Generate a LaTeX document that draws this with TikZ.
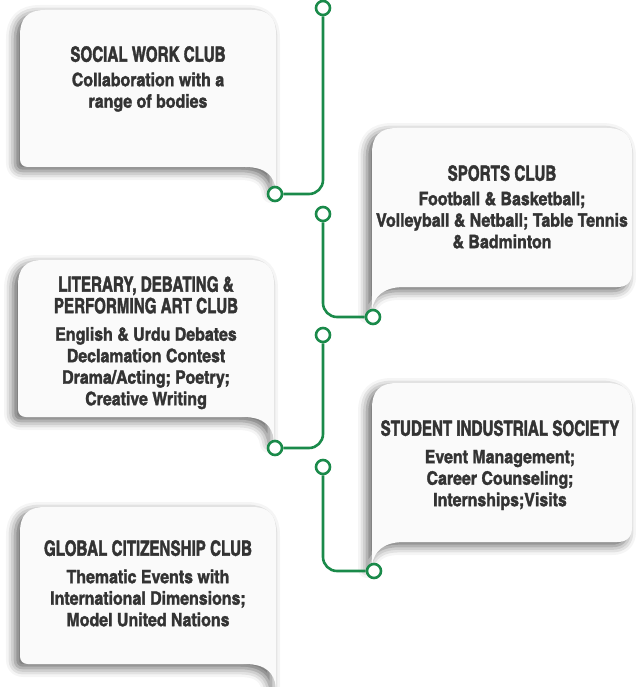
\documentclass[tikz,border=0pt]{standalone}
\usepackage{fontspec}
\setmainfont{texgyreheroscn-bold.otf}[FakeStretch=1.05, FakeBold=1.6]
\newfontfamily\headfont{texgyreheroscn-bold.otf}[FakeStretch=0.88, FakeBold=1.8]
\usetikzlibrary{positioning,shadows.blur}
\definecolor{RouteGreen}{HTML}{1A8A4A}
\definecolor{BubbleText}{HTML}{333333}
\definecolor{BubbleFill}{HTML}{FAFAFA}
\newcommand{\hd}{\headfont\fontsize{21}{22}\selectfont}
% speech bubbles, origin at the top left corner
\newcommand{\leftbubble}{(0,25) .. controls (0,8) and (8,0) .. (25,0) -- (232,0) .. controls (249,0) and (256,8) .. (256,25) -- (256,180) .. controls (254,166) and (246,157) .. (225,157) -- (8,157) .. controls (3,157) and (0,154) .. (0,149) -- cycle}
\newcommand{\rightbubble}{(0,182) -- (0,25) .. controls (0,8) and (8,0) .. (25,0) -- (235,0) .. controls (252,0) and (260,8) .. (260,25) -- (260,144) .. controls (260,154) and (255,159) .. (245,159) -- (32,159) .. controls (12,159) and (2,168) .. (0,182) -- cycle}

\tikzset{
  bubble/.style={fill=BubbleFill, draw=none, blur shadow={shadow xshift=-5pt, shadow yshift=-4pt, shadow blur radius=9pt, shadow opacity=60}},
  clubtext/.style={anchor=north, align=center, inner sep=0pt, text=BubbleText, font=\fontsize{18.5}{21.5}\selectfont},
  route/.style={draw=RouteGreen, line width=2.6pt, rounded corners=14pt},
  stop/.style={circle, draw=RouteGreen, line width=2.6pt, fill=white, minimum size=14pt, inner sep=0pt},
}

\begin{document}
\begin{tikzpicture}[x=1pt, y=-1pt]
  \useasboundingbox (0,0) rectangle (635,687);

  % Bubbles
  \begin{scope}[shift={(20,10)}]
    \path[bubble] \leftbubble;
  \end{scope}
  \begin{scope}[shift={(372,128)}]
    \path[bubble] \rightbubble;
  \end{scope}
  \begin{scope}[shift={(18,260)}]
    \path[bubble] \leftbubble;
  \end{scope}
  \begin{scope}[shift={(372,383)}]
    \path[bubble] \rightbubble;
  \end{scope}
  \begin{scope}[shift={(20,507)}]
    \path[bubble] \leftbubble;
  \end{scope}

  % Club texts
  \node[clubtext] (social) at (148,46) {{\hd SOCIAL WORK CLUB}\\[3pt] Collaboration with a\\ range of bodies};
  \node[clubtext] (sports) at (502,165) {{\hd SPORTS CLUB}\\[3pt] Football \& Basketball;\\ Volleyball \& Netball; Table Tennis\\ \& Badminton};
  \node[clubtext] (literary) at (146,276) {{\hd LITERARY, DEBATING \&}\\ {\hd PERFORMING ART CLUB}\\[6pt] English \& Urdu Debates\\ Declamation Contest\\ Drama/Acting; Poetry;\\ Creative Writing};
  \node[clubtext] (industrial) at (500,420) {{\hd STUDENT INDUSTRIAL SOCIETY}\\[6pt] Event Management;\\ Career Counseling;\\ Internships;Visits};
  \node[clubtext] (global) at (148,540) {{\hd GLOBAL CITIZENSHIP CLUB}\\[6pt] Thematic Events with\\ International Dimensions;\\ Model United Nations};

  % Route stops
  \node[stop] (top1) at (323,8) {};
  \node[stop] (end1) at (275,194) {};
  \node[stop] (top2) at (323,214) {};
  \node[stop] (end2) at (373,317) {};
  \node[stop] (top3) at (323,335) {};
  \node[stop] (end3) at (275,448) {};
  \node[stop] (top4) at (323,467) {};
  \node[stop] (end4) at (374,571) {};

  % Routes
  \draw[route] (top1) |- (end1);
  \draw[route] (top2) |- (end2);
  \draw[route] (top3) |- (end3);
  \draw[route] (top4) |- (end4);
\end{tikzpicture}
\end{document}
